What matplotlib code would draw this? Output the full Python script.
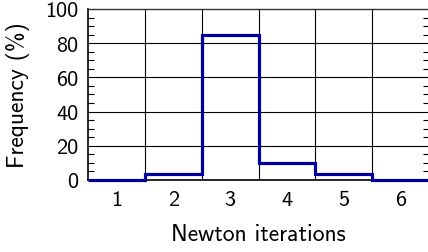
import matplotlib
matplotlib.use("Agg")
import matplotlib.pyplot as plt
import numpy as np
from matplotlib.ticker import MultipleLocator

iterations = [1, 2, 3, 4, 5, 6]
frequency = [0.0, 3.5, 85.0, 10.0, 3.5, 0.0]
yticks = [0, 20, 40, 60, 80, 100]

plt.rcParams['font.family'] = ['cmss10', 'DejaVu Sans']
plt.rcParams['axes.formatter.use_mathtext'] = False

fig = plt.figure(figsize=(4.28, 2.53), dpi=100)
ax = fig.add_axes([0.2056, 0.2846, 0.797, 0.6759])

edges = np.arange(len(iterations) + 1) + 0.5
st = ax.stairs(frequency, edges, baseline=None, color='#0000a0', linewidth=2.3, zorder=5)
st.set_clip_on(False)

ax.set_xlim(0.5, 6.5)
ax.set_ylim(0, 100)
ax.set_xticks(iterations)
ax.set_xticklabels([str(i) for i in iterations])
ax.set_yticks(yticks)
ax.set_yticklabels([str(v) for v in yticks])
ax.yaxis.set_minor_locator(MultipleLocator(5))

for x in edges[1:-1]:
    ax.axvline(x, color='black', linewidth=0.8, zorder=1)
for y in yticks[1:-1]:
    ax.axhline(y, color='black', linewidth=0.8, zorder=1)

ax.tick_params(axis='x', length=0, labelsize=16, pad=7)
ax.tick_params(axis='y', which='major', length=0, labelsize=16, pad=7)
ax.tick_params(axis='y', which='minor', direction='in', length=4, width=0.8,
               left=True, right=True)

for s in ['left', 'bottom']:
    ax.spines[s].set_linewidth(1.2)
    ax.spines[s].set_color('black')
ax.spines['top'].set_linewidth(1.0)
ax.spines['top'].set_color('#333333')
ax.spines['right'].set_visible(False)

ax.set_xlabel('Newton iterations', fontsize=17, labelpad=10)
ax.set_ylabel('Frequency (%)', fontsize=17, labelpad=11)

fig.savefig('out.png', dpi=100)
